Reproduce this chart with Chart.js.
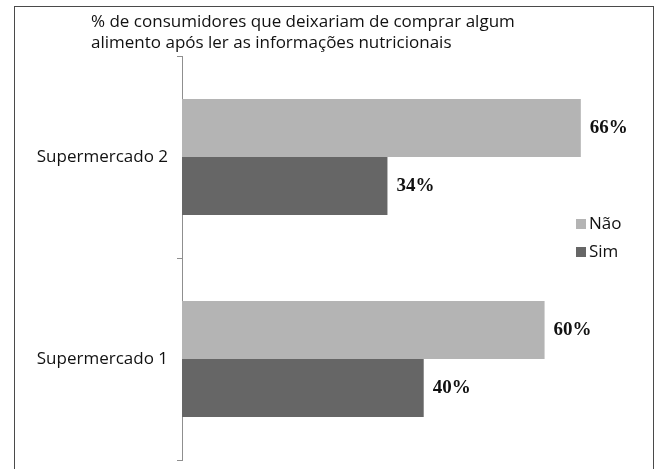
<!DOCTYPE html>
<html>
<head>
<meta charset="utf-8">
<script src="https://cdn.jsdelivr.net/npm/chart.js@4/dist/chart.umd.min.js"></script>
<style>
  html, body { margin: 0; padding: 0; background: #fff; overflow: hidden; }
  #wrap { position: relative; width: 659px; height: 469px; }
  #frame { position: absolute; left: 14px; top: 6px; width: 638px; height: 480px; border: 1px solid #4a4a4a; }
  canvas { position: absolute; left: 0; top: 0; }
</style>
</head>
<body>
<div id="wrap">
  <div id="frame"></div>
  <canvas id="chart" width="659" height="469"></canvas>
</div>
<script>
// chart data
const titleLines = [
  '% de consumidores que deixariam de comprar algum',
  'alimento após ler as informações nutricionais'
];
const categories = ['Supermercado 2', 'Supermercado 1'];
const seriesNames = ['Não', 'Sim'];
const naoValues = [66, 60];
const simValues = [34, 40];

const sansFont = '"Open Sans", "DejaVu Sans", sans-serif';

// two-line title, left aligned above the plot
const titlePlugin = {
  id: 'titleLines',
  afterDraw(chart) {
    const ctx = chart.ctx;
    ctx.save();
    ctx.font = '17px ' + sansFont;
    ctx.fillStyle = '#111';
    ctx.textBaseline = 'middle';
    ctx.textAlign = 'left';
    titleLines.forEach((line, i) => ctx.fillText(line, 91, 22 + i * 21));
    ctx.restore();
  }
};

// bold percentage next to the end of every bar
const valueLabels = {
  id: 'valueLabels',
  afterDatasetsDraw(chart) {
    const ctx = chart.ctx;
    ctx.save();
    ctx.font = 'bold 19px "Liberation Serif", "Times New Roman", serif';
    ctx.fillStyle = '#111';
    ctx.textBaseline = 'middle';
    ctx.textAlign = 'left';
    chart.data.datasets.forEach((ds, i) => {
      chart.getDatasetMeta(i).data.forEach((bar, j) => {
        ctx.fillText(ds.data[j] + '%', bar.x + 9, bar.y);
      });
    });
    ctx.restore();
  }
};

// small legend sitting inside the plot on the right
const sideLegend = {
  id: 'sideLegend',
  afterDraw(chart) {
    const ctx = chart.ctx;
    ctx.save();
    ctx.font = '17px ' + sansFont;
    ctx.textBaseline = 'middle';
    ctx.textAlign = 'left';
    chart.data.datasets.forEach((ds, i) => {
      const y = 224 + i * 28;
      ctx.fillStyle = ds.backgroundColor;
      ctx.fillRect(576, y - 5, 10, 10);
      ctx.fillStyle = '#111';
      ctx.fillText(ds.label, 589, y);
    });
    ctx.restore();
  }
};

new Chart(document.getElementById('chart').getContext('2d'), {
  type: 'bar',
  data: {
    labels: categories,
    datasets: [
      { label: seriesNames[0], data: naoValues, backgroundColor: '#b4b4b4' },
      { label: seriesNames[1], data: simValues, backgroundColor: '#666666' }
    ]
  },
  options: {
    indexAxis: 'y',
    responsive: false,
    animation: false,
    layout: { padding: { top: 56, bottom: 9, left: 0, right: 54 } },
    datasets: {
      bar: { categoryPercentage: 0.575, barPercentage: 1.0 }
    },
    scales: {
      x: { display: false, min: 0, max: 70 },
      y: {
        afterFit(scale) {
          scale.width = 182;
          scale.paddingTop = 0;
          scale.paddingBottom = 0;
        },
        grid: { offset: true, drawOnChartArea: false, drawTicks: true, tickLength: 5, color: '#8f8f8f' },
        border: { display: true, color: '#8f8f8f' },
        ticks: { color: '#111', padding: 9, font: { family: sansFont, size: 17 } }
      }
    },
    plugins: {
      legend: { display: false },
      tooltip: { enabled: false }
    }
  },
  plugins: [titlePlugin, valueLabels, sideLegend]
});
</script>
</body>
</html>
